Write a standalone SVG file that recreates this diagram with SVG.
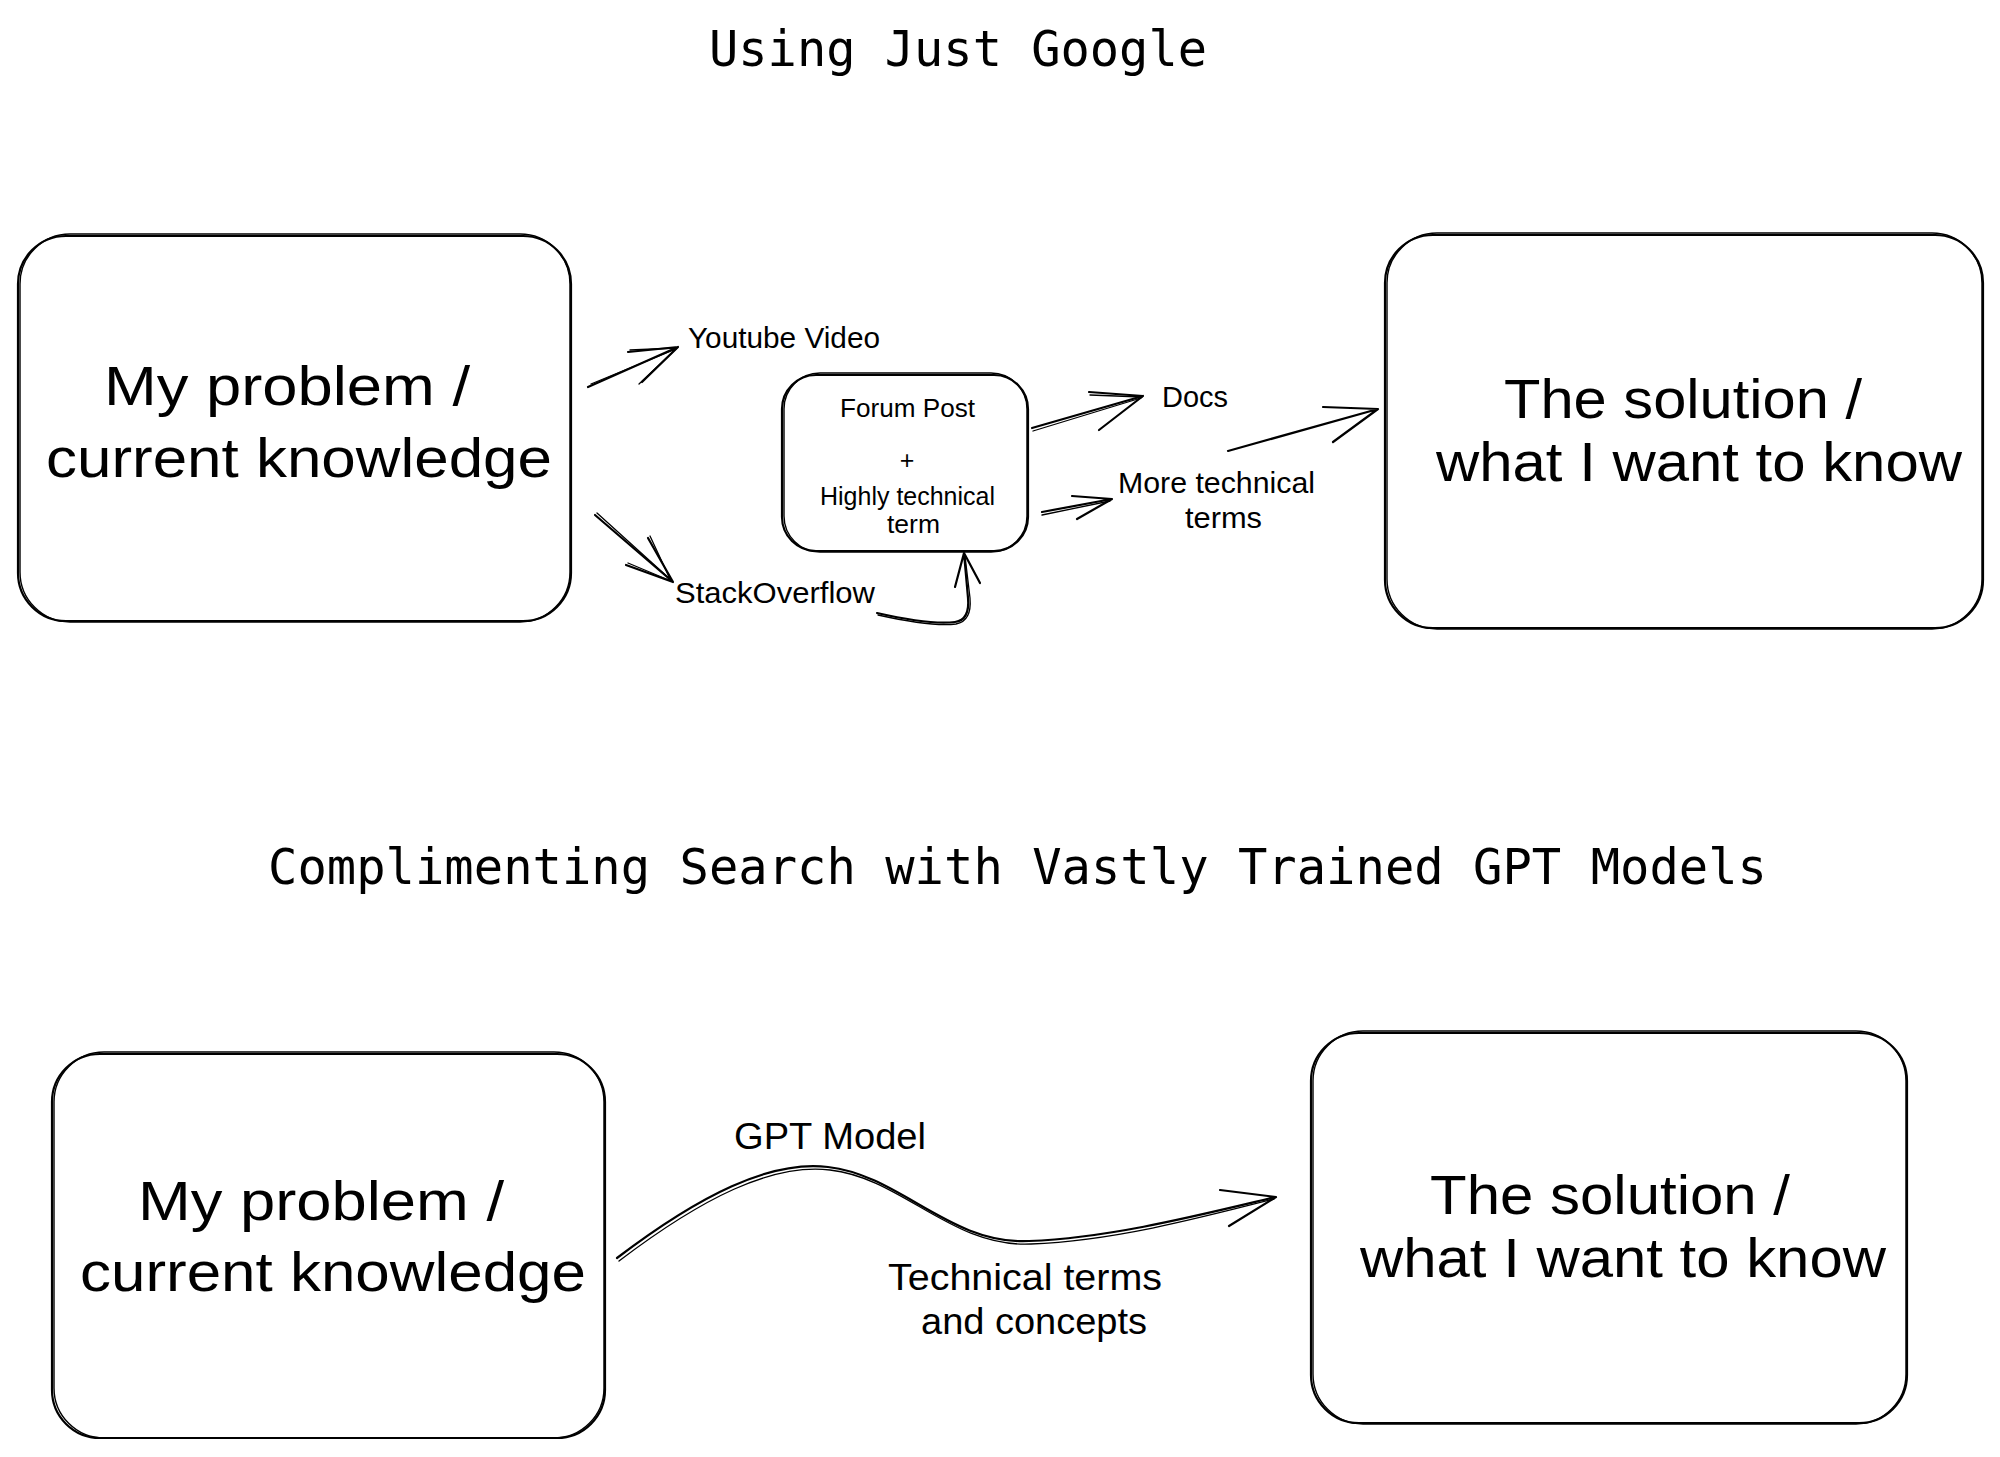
<svg xmlns="http://www.w3.org/2000/svg" width="2000" height="1457" viewBox="0 0 2000 1457">
<style>
  .bg { fill: #ffffff; }
  .box { fill: none; stroke: #000; stroke-width: 2.2; stroke-linejoin: round; }
  .box2 { fill: none; stroke: #000; stroke-width: 1.4; stroke-linejoin: round; }
  .ln { fill: none; stroke: #000; stroke-width: 2.2; stroke-linecap: round; stroke-linejoin: round; }
  .ln2 { fill: none; stroke: #000; stroke-width: 1.3; stroke-linecap: round; stroke-linejoin: round; }
  .title { font-family: "DejaVu Sans Mono", "Liberation Mono", monospace; font-size: 49px; fill: #000; }
  .hand { font-family: "Liberation Sans", Arial, sans-serif; fill: #000; }
  .big { font-size: 56px; }
  .med { font-size: 36px; }
  .sm { font-size: 29px; }
  .xs { font-size: 25px; }
</style>
<rect class="bg" x="0" y="0" width="2000" height="1457"/>

<g id="title-google">
  <text class="title" x="709" y="66" textLength="498" lengthAdjust="spacingAndGlyphs">Using Just Google</text>
</g>
<g id="title-gpt">
  <text class="title" x="268" y="884" textLength="1499" lengthAdjust="spacingAndGlyphs">Complimenting Search with Vastly Trained GPT Models</text>
</g>

<g id="problem-top">
  <rect class="box" x="18" y="236" width="553" height="385" rx="48" ry="48"/>
  <rect class="box2" x="20" y="234" width="550" height="388" rx="50" ry="50"/>
  <text class="hand big" x="104" y="405" textLength="366" lengthAdjust="spacingAndGlyphs">My problem /</text>
  <text class="hand big" x="46" y="477" textLength="506" lengthAdjust="spacingAndGlyphs">current knowledge</text>
</g>

<g id="solution-top">
  <rect class="box" x="1385" y="235" width="598" height="393" rx="48" ry="48"/>
  <rect class="box2" x="1387" y="233" width="595" height="396" rx="50" ry="50"/>
  <text class="hand big" x="1504" y="418" textLength="358" lengthAdjust="spacingAndGlyphs">The solution /</text>
  <text class="hand big" x="1436" y="481" textLength="526" lengthAdjust="spacingAndGlyphs">what I want to know</text>
</g>

<g id="forum-post">
  <rect class="box" x="782" y="375" width="246" height="176" rx="34" ry="34"/>
  <rect class="box2" x="784" y="373" width="243" height="179" rx="36" ry="36"/>
  <text class="hand xs" x="840" y="417" textLength="135" lengthAdjust="spacingAndGlyphs">Forum Post</text>
  <text class="hand xs" x="907" y="469" text-anchor="middle" font-size="20">+</text>
  <text class="hand xs" x="820" y="505" textLength="175" lengthAdjust="spacingAndGlyphs">Highly technical</text>
  <text class="hand xs" x="887" y="533" textLength="53" lengthAdjust="spacingAndGlyphs">term</text>
</g>

<g id="youtube-video">
  <text class="hand sm" x="688" y="348" textLength="192" lengthAdjust="spacingAndGlyphs">Youtube Video</text>
</g>
<g id="stackoverflow">
  <text class="hand sm" x="675" y="603" textLength="200" lengthAdjust="spacingAndGlyphs">StackOverflow</text>
</g>
<g id="docs">
  <text class="hand sm" x="1162" y="407" textLength="66" lengthAdjust="spacingAndGlyphs">Docs</text>
</g>
<g id="more-technical-terms">
  <text class="hand sm" x="1118" y="493" textLength="197" lengthAdjust="spacingAndGlyphs">More technical</text>
  <text class="hand sm" x="1185" y="528" textLength="77" lengthAdjust="spacingAndGlyphs">terms</text>
</g>

<g id="problem-bottom">
  <rect class="box" x="52" y="1054" width="553" height="384" rx="48" ry="48"/>
  <rect class="box2" x="54" y="1052" width="550" height="386" rx="50" ry="50"/>
  <text class="hand big" x="138" y="1220" textLength="366" lengthAdjust="spacingAndGlyphs">My problem /</text>
  <text class="hand big" x="80" y="1291" textLength="506" lengthAdjust="spacingAndGlyphs">current knowledge</text>
</g>

<g id="solution-bottom">
  <rect class="box" x="1311" y="1033" width="596" height="390" rx="48" ry="48"/>
  <rect class="box2" x="1313" y="1031" width="593" height="393" rx="50" ry="50"/>
  <text class="hand big" x="1430" y="1214" textLength="360" lengthAdjust="spacingAndGlyphs">The solution /</text>
  <text class="hand big" x="1360" y="1277" textLength="526" lengthAdjust="spacingAndGlyphs">what I want to know</text>
</g>

<g id="gpt-labels">
  <text class="hand med" x="734" y="1149" textLength="192" lengthAdjust="spacingAndGlyphs">GPT Model</text>
  <text class="hand med" x="888" y="1290" textLength="274" lengthAdjust="spacingAndGlyphs">Technical terms</text>
  <text class="hand med" x="921" y="1334" textLength="226" lengthAdjust="spacingAndGlyphs">and concepts</text>
</g>

<g id="connectors">
  <!-- to Youtube -->
  <path class="ln" d="M588 387 L678 347 M628 352 L678 347 L642 382"/>
  <path class="ln2" d="M591 384 L676 349 M630 350 L677 348 L639 384"/>
  <!-- to StackOverflow -->
  <path class="ln" d="M595 515 L673 582 M648 538 L673 582 L626 565"/>
  <path class="ln2" d="M597 513 L671 580 M650 536 L671 581 L628 563"/>
  <!-- StackOverflow to Forum -->
  <path class="ln" d="M877 613 Q930 625 955 622 Q970 620 968 598 L964 553 M955 587 L964 553 L980 583"/>
  <path class="ln2" d="M878 615 Q932 627 956 624 Q972 621 970 598 L965 556"/>
  <!-- Forum to Docs -->
  <path class="ln" d="M1032 428 L1143 396 M1089 392 L1143 396 L1099 430"/>
  <path class="ln2" d="M1033 431 L1141 398 M1090 395 L1142 397"/>
  <!-- Forum to More technical -->
  <path class="ln" d="M1042 512 L1112 499 M1072 496 L1112 499 L1077 519"/>
  <path class="ln2" d="M1042 515 L1110 501"/>
  <!-- to solution -->
  <path class="ln" d="M1228 451 L1378 409 M1323 407 L1378 409 L1333 442"/>
  <!-- GPT curve -->
  <path class="ln" d="M617 1258 C700 1195 770 1160 828 1167 C900 1175 950 1245 1029 1241 C1110 1238 1200 1215 1276 1197 M1220 1190 L1276 1197 L1229 1226"/>
  <path class="ln2" d="M619 1261 C702 1198 772 1163 830 1170 C902 1178 952 1248 1031 1244 C1112 1241 1200 1218 1274 1199"/>
</g>
</svg>
